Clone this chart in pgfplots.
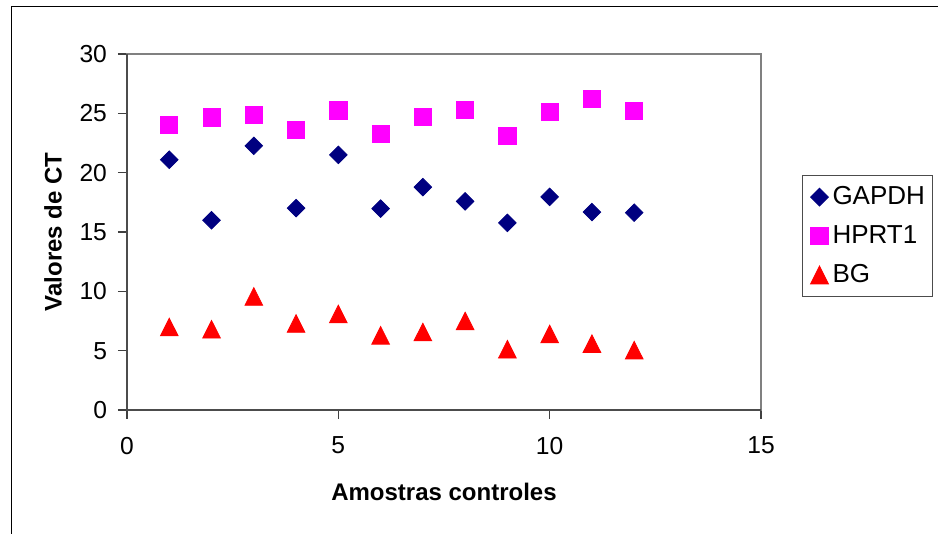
\documentclass[border=0pt]{standalone}
\usepackage{pgfplots}
\pgfplotsset{compat=1.18}
\usepackage{fontspec}
\setmainfont{Liberation Sans}
\definecolor{gnavy}{HTML}{000080}
\definecolor{gmag}{HTML}{FF00FF}
\definecolor{gred}{HTML}{FF0000}
\begin{document}
\begin{tikzpicture}
\useasboundingbox (0,0) rectangle (469pt,267pt);
\draw[black, line width=0.5pt] (5.5pt,-2pt) -- (5.5pt,263.5pt) -- (472pt,263.5pt);
\begin{axis}[
  at={(63.5pt,62pt)}, anchor=south west,
  scale only axis, width=317pt, height=178pt,
  xmin=0, xmax=15, ymin=0, ymax=30,
  xtick={0,5,10,15}, ytick={0,5,10,15,20,25,30},
  xtick pos=bottom, ytick pos=left,
  tick align=outside, major tick length=4.5pt,
  tick style={black!75, line width=0.6pt},
  axis line style={gray, line width=0.8pt},
  /pgf/number format/assume math mode=true,
  ticklabel style={font=\fontsize{12.3}{14}\selectfont},
  xticklabel style={yshift=-5.5pt},
  yticklabel style={xshift=-2pt},
  xlabel={Amostras controles}, ylabel={Valores de CT},
  label style={font=\fontsize{12}{14}\selectfont\bfseries},
  xlabel style={at={(axis description cs:0.5,-0.2303)}, anchor=center},
  ylabel style={at={(axis description cs:-0.1167,0.5)}, anchor=center},
  legend style={at={(1.0647,0.6601)}, anchor=north west, draw=black!70, line width=0.5pt,
    font=\fontsize{13}{15}\selectfont, inner xsep=2pt, inner ysep=3.5pt, row sep=5pt, column sep=0pt},
  legend cell align=left,
  legend image code/.code={\path[draw=none,fill=none] (0pt,0pt) -- (11pt,0pt); \draw[#1] plot coordinates {(6.5pt,0pt)};},
  after end axis/.code={
    \draw[black!70, line width=0.8pt] (rel axis cs:0,1) -- (rel axis cs:0,0) -- (rel axis cs:1,0);
  },
]
\addplot[only marks, mark=square*, mark size=3.1pt, color=gnavy, mark options={rotate=45}]
coordinates {(1,21.09) (2,15.99) (3,22.26) (4,17.01) (5,21.5) (6,16.97) (7,18.78) (8,17.58) (9,15.77) (10,17.96) (11,16.68) (12,16.63)};
\addlegendentry{GAPDH}
\addplot[only marks, mark=square*, mark size=4.3pt, color=gmag]
coordinates {(1,24.02) (2,24.66) (3,24.84) (4,23.57) (5,25.24) (6,23.26) (7,24.72) (8,25.32) (9,23.07) (10,25.13) (11,26.19) (12,25.21)};
\addlegendentry{HPRT1}
\addplot[only marks, mark=triangle*, mark size=5.1pt, color=gred, mark options={yshift=-1.45pt, yscale=1.15}]
coordinates {(1,6.99) (2,6.80) (3,9.56) (4,7.29) (5,8.09) (6,6.29) (7,6.57) (8,7.5) (9,5.12) (10,6.4) (11,5.59) (12,5.04)};
\addlegendentry{BG}
\end{axis}
\end{tikzpicture}
\end{document}
